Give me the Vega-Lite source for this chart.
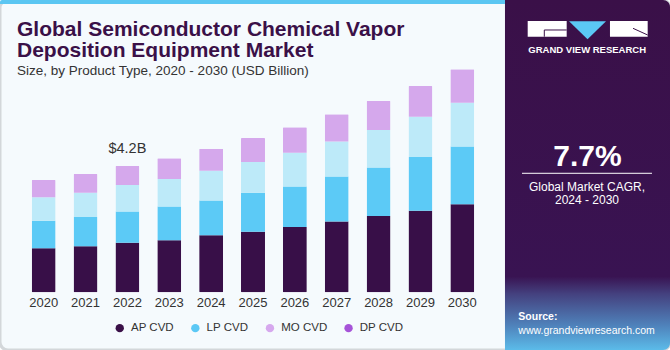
{
  "$schema": "https://vega.github.io/schema/vega-lite/v6.json",
  "width": 670,
  "height": 350,
  "autosize": "none",
  "padding": 0,
  "background": "#ffffff",
  "config": {"font": "Liberation Sans", "view": {"stroke": null}},
  "view": {"fill": "#f5fafd", "stroke": "#d3d7da", "strokeWidth": 3, "cornerRadius": 8},
  "datasets": {
    "bars": [
      {"year": "2020", "product": "AP CVD", "seg": 1, "value": 1.46},
      {"year": "2020", "product": "LP CVD", "seg": 2, "value": 0.92},
      {"year": "2020", "product": "MO CVD", "seg": 3, "value": 0.78},
      {"year": "2020", "product": "DP CVD", "seg": 4, "value": 0.57},
      {"year": "2021", "product": "AP CVD", "seg": 1, "value": 1.53},
      {"year": "2021", "product": "LP CVD", "seg": 2, "value": 0.97},
      {"year": "2021", "product": "MO CVD", "seg": 3, "value": 0.81},
      {"year": "2021", "product": "DP CVD", "seg": 4, "value": 0.62},
      {"year": "2022", "product": "AP CVD", "seg": 1, "value": 1.65},
      {"year": "2022", "product": "LP CVD", "seg": 2, "value": 1.04},
      {"year": "2022", "product": "MO CVD", "seg": 3, "value": 0.88},
      {"year": "2022", "product": "DP CVD", "seg": 4, "value": 0.63},
      {"year": "2023", "product": "AP CVD", "seg": 1, "value": 1.73},
      {"year": "2023", "product": "LP CVD", "seg": 2, "value": 1.12},
      {"year": "2023", "product": "MO CVD", "seg": 3, "value": 0.92},
      {"year": "2023", "product": "DP CVD", "seg": 4, "value": 0.69},
      {"year": "2024", "product": "AP CVD", "seg": 1, "value": 1.90},
      {"year": "2024", "product": "LP CVD", "seg": 2, "value": 1.15},
      {"year": "2024", "product": "MO CVD", "seg": 3, "value": 0.99},
      {"year": "2024", "product": "DP CVD", "seg": 4, "value": 0.73},
      {"year": "2025", "product": "AP CVD", "seg": 1, "value": 2.01},
      {"year": "2025", "product": "LP CVD", "seg": 2, "value": 1.30},
      {"year": "2025", "product": "MO CVD", "seg": 3, "value": 1.02},
      {"year": "2025", "product": "DP CVD", "seg": 4, "value": 0.80},
      {"year": "2026", "product": "AP CVD", "seg": 1, "value": 2.17},
      {"year": "2026", "product": "LP CVD", "seg": 2, "value": 1.35},
      {"year": "2026", "product": "MO CVD", "seg": 3, "value": 1.12},
      {"year": "2026", "product": "DP CVD", "seg": 4, "value": 0.85},
      {"year": "2027", "product": "AP CVD", "seg": 1, "value": 2.35},
      {"year": "2027", "product": "LP CVD", "seg": 2, "value": 1.50},
      {"year": "2027", "product": "MO CVD", "seg": 3, "value": 1.16},
      {"year": "2027", "product": "DP CVD", "seg": 4, "value": 0.91},
      {"year": "2028", "product": "AP CVD", "seg": 1, "value": 2.54},
      {"year": "2028", "product": "LP CVD", "seg": 2, "value": 1.61},
      {"year": "2028", "product": "MO CVD", "seg": 3, "value": 1.25},
      {"year": "2028", "product": "DP CVD", "seg": 4, "value": 0.96},
      {"year": "2029", "product": "AP CVD", "seg": 1, "value": 2.71},
      {"year": "2029", "product": "LP CVD", "seg": 2, "value": 1.79},
      {"year": "2029", "product": "MO CVD", "seg": 3, "value": 1.34},
      {"year": "2029", "product": "DP CVD", "seg": 4, "value": 1.02},
      {"year": "2030", "product": "AP CVD", "seg": 1, "value": 2.93},
      {"year": "2030", "product": "LP CVD", "seg": 2, "value": 1.92},
      {"year": "2030", "product": "MO CVD", "seg": 3, "value": 1.45},
      {"year": "2030", "product": "DP CVD", "seg": 4, "value": 1.12}
    ],
    "labels": [{"year": "2022", "total": 4.2, "label": "$4.2B"}],
    "legend": [
      {"product": "AP CVD"},
      {"product": "LP CVD"},
      {"product": "MO CVD"},
      {"product": "DP CVD"}
    ]
  },
  "layer": [
    {
      "layer": [
        {
          "data": {"values": [{"part": "panel"}]},
          "mark": {"type": "rect", "cornerRadiusTopRight": 7, "cornerRadiusBottomRight": 7,
            "fill": {"gradient": "linear", "x1": 0, "y1": 0, "x2": 0, "y2": 1,
              "stops": [
                {"offset": 0, "color": "#3a1048"},
                {"offset": 0.79, "color": "#391352"},
                {"offset": 0.84, "color": "#44417f"},
                {"offset": 0.93, "color": "#4f82bb"},
                {"offset": 1, "color": "#5bbbe9"}
              ]}},
          "encoding": {
            "x": {"datum": 0.7537, "type": "quantitative", "scale": {"domain": [0, 1]}, "axis": null},
            "x2": {"datum": 1},
            "y": {"datum": 0, "type": "quantitative", "scale": {"domain": [0, 1], "reverse": true}, "axis": null},
            "y2": {"datum": 1}
          }
        },
        {
          "data": {"values": [{"part": "stripe"}]},
          "mark": {"type": "rect", "fill": "#5bc6f2", "cornerRadiusTopLeft": 6},
          "encoding": {
            "x": {"datum": 0, "type": "quantitative"},
            "x2": {"datum": 0.7537},
            "y": {"datum": 0, "type": "quantitative"},
            "y2": {"datum": 0.0114}
          }
        },
        {
          "data": {"values": [{"part": "G"}, {"part": "R"}]},
          "layer": [
            {
              "transform": [{"filter": "datum.part === 'G'"}],
              "mark": {"type": "rect", "fill": "#ffffff"},
              "encoding": {
                "x": {"datum": 0.7876, "type": "quantitative"},
                "x2": {"datum": 0.8458},
                "y": {"datum": 0.06, "type": "quantitative"},
                "y2": {"datum": 0.1049}
              }
            },
            {
              "transform": [{"filter": "datum.part === 'R'"}],
              "mark": {"type": "rect", "fill": "#ffffff"},
              "encoding": {
                "x": {"datum": 0.9104, "type": "quantitative"},
                "x2": {"datum": 0.9667},
                "y": {"datum": 0.06, "type": "quantitative"},
                "y2": {"datum": 0.1049}
              }
            }
          ]
        },
        {
          "data": {"values": [{"part": "V"}]},
          "mark": {"type": "point", "filled": true, "opacity": 1, "fill": "#5bc8f5", "strokeWidth": 0, "size": 1369, "shape": "M-1,-0.486L1,-0.486L0,0.486Z"},
          "encoding": {
            "x": {"datum": 0.8769, "type": "quantitative"},
            "y": {"datum": 0.0861, "type": "quantitative"}
          }
        },
        {
          "data": {"values": [{"part": "Gline"}]},
          "mark": {"type": "rule", "color": "#3a1048", "strokeWidth": 1},
          "encoding": {
            "x": {"datum": 0.8124, "type": "quantitative"},
            "x2": {"datum": 0.8458},
            "y": {"datum": 0.0857, "type": "quantitative"}
          }
        },
        {
          "data": {"values": [{"part": "Gline2"}]},
          "mark": {"type": "rule", "color": "#3a1048", "strokeWidth": 1},
          "encoding": {
            "x": {"datum": 0.8124, "type": "quantitative"},
            "y": {"datum": 0.0857, "type": "quantitative"},
            "y2": {"datum": 0.1049}
          }
        },
        {
          "data": {"values": [{"part": "Rline"}]},
          "mark": {"type": "rule", "color": "#3a1048", "strokeWidth": 1},
          "encoding": {
            "x": {"datum": 0.9448, "type": "quantitative"},
            "x2": {"datum": 0.9667},
            "y": {"datum": 0.0809, "type": "quantitative"},
            "y2": {"datum": 0.1}
          }
        },
        {
          "data": {"values": [{"t": "GRAND VIEW RESEARCH"}]},
          "mark": {"type": "text", "align": "center", "baseline": "alphabetic", "fontSize": 9.5, "fontWeight": "bold", "color": "#ffffff"},
          "encoding": {
            "x": {"datum": 0.8764, "type": "quantitative"},
            "y": {"datum": 0.1523, "type": "quantitative"},
            "text": {"field": "t"}
          }
        },
        {
          "data": {"values": [{"t": "7.7%"}]},
          "mark": {"type": "text", "align": "center", "baseline": "alphabetic", "fontSize": 30, "fontWeight": "bold", "color": "#ffffff"},
          "encoding": {
            "x": {"datum": 0.8769, "type": "quantitative"},
            "y": {"datum": 0.4734, "type": "quantitative"},
            "text": {"field": "t"}
          }
        },
        {
          "data": {"values": [{"part": "divider"}]},
          "mark": {"type": "rule", "color": "#ffffff", "strokeWidth": 1},
          "encoding": {
            "x": {"datum": 0.7791, "type": "quantitative"},
            "x2": {"datum": 0.9731},
            "y": {"datum": 0.4951, "type": "quantitative"}
          }
        },
        {
          "data": {"values": [{"t": "Global Market CAGR,\n2024 - 2030"}]},
          "mark": {"type": "text", "align": "center", "baseline": "alphabetic", "fontSize": 12, "lineBreak": "\n", "lineHeight": 13.5, "color": "#ffffff"},
          "encoding": {
            "x": {"datum": 0.8761, "type": "quantitative"},
            "y": {"datum": 0.5443, "type": "quantitative"},
            "text": {"field": "t"}
          }
        },
        {
          "data": {"values": [{"t": "Source:"}]},
          "mark": {"type": "text", "align": "left", "baseline": "alphabetic", "fontSize": 10.5, "fontWeight": "bold", "color": "#ffffff"},
          "encoding": {
            "x": {"datum": 0.7736, "type": "quantitative"},
            "y": {"datum": 0.9143, "type": "quantitative"},
            "text": {"field": "t"}
          }
        },
        {
          "data": {"values": [{"t": "www.grandviewresearch.com"}]},
          "mark": {"type": "text", "align": "left", "baseline": "alphabetic", "fontSize": 10.5, "color": "#ffffff"},
          "encoding": {
            "x": {"datum": 0.7736, "type": "quantitative"},
            "y": {"datum": 0.9543, "type": "quantitative"},
            "text": {"field": "t"}
          }
        },
        {
          "data": {"values": [{"t": "Global Semiconductor Chemical Vapor\nDeposition Equipment Market"}]},
          "mark": {"type": "text", "align": "left", "baseline": "alphabetic", "fontSize": 21, "fontWeight": "bold", "lineBreak": "\n", "lineHeight": 20.7, "color": "#3a1048"},
          "encoding": {
            "x": {"datum": 0.0254, "type": "quantitative"},
            "y": {"datum": 0.1029, "type": "quantitative"},
            "text": {"field": "t"}
          }
        },
        {
          "data": {"values": [{"t": "Size, by Product Type, 2020 - 2030 (USD Billion)"}]},
          "mark": {"type": "text", "align": "left", "baseline": "alphabetic", "fontSize": 13.5, "color": "#333333"},
          "encoding": {
            "x": {"datum": 0.0254, "type": "quantitative"},
            "y": {"datum": 0.2129, "type": "quantitative"},
            "text": {"field": "t"}
          }
        }
      ]
    },
    {
      "layer": [
        {
          "data": {"name": "bars"},
          "mark": {"type": "bar", "cornerRadius": 1},
          "encoding": {
            "x": {"field": "year", "type": "ordinal",
              "scale": {"range": [0, 506], "paddingInner": 0.427, "paddingOuter": 0.757, "align": 0.5},
              "axis": {"orient": "bottom", "offset": -57.7, "domain": false, "ticks": false, "tickSize": 0, "labelPadding": 4, "labelAngle": 0, "labelFontSize": 13, "labelColor": "#333333", "title": null, "grid": false}},
            "y": {"field": "value", "type": "quantitative", "stack": "zero",
              "scale": {"domain": [-1.92, 9.72], "nice": false, "zero": false}, "axis": null},
            "color": {"field": "product", "type": "nominal",
              "scale": {"domain": ["AP CVD", "LP CVD", "MO CVD", "DP CVD"], "range": ["#380f48", "#5ccaf6", "#bdeaf9", "#d5a8ec"]},
              "legend": null},
            "order": {"field": "seg", "type": "quantitative"}
          }
        },
        {
          "data": {"name": "labels"},
          "mark": {"type": "text", "align": "center", "baseline": "alphabetic", "dy": -12.7, "fontSize": 14.5, "color": "#333333"},
          "encoding": {
            "x": {"field": "year", "type": "ordinal"},
            "y": {"field": "total", "type": "quantitative"},
            "text": {"field": "label"}
          }
        }
      ]
    },
    {
      "data": {"name": "legend"},
      "mark": {"type": "point", "filled": true, "opacity": 0, "size": 0},
      "encoding": {
        "color": {"field": "product", "type": "nominal",
          "scale": {"domain": ["AP CVD", "LP CVD", "MO CVD", "DP CVD"], "range": ["#3a1048", "#5bc8f5", "#d6a8ee", "#a653d8"]},
          "legend": {"orient": "none", "legendX": 114, "legendY": 322, "direction": "horizontal", "title": null, "padding": 0,
            "labelFontSize": 11.5, "labelColor": "#333333", "symbolSize": 70, "symbolType": "circle", "symbolOpacity": 1,
            "symbolStrokeWidth": 0, "columnPadding": 15.6, "labelOffset": 5.5}}
      }
    }
  ],
  "resolve": {"scale": {"x": "independent", "y": "independent", "color": "independent"}}
}
